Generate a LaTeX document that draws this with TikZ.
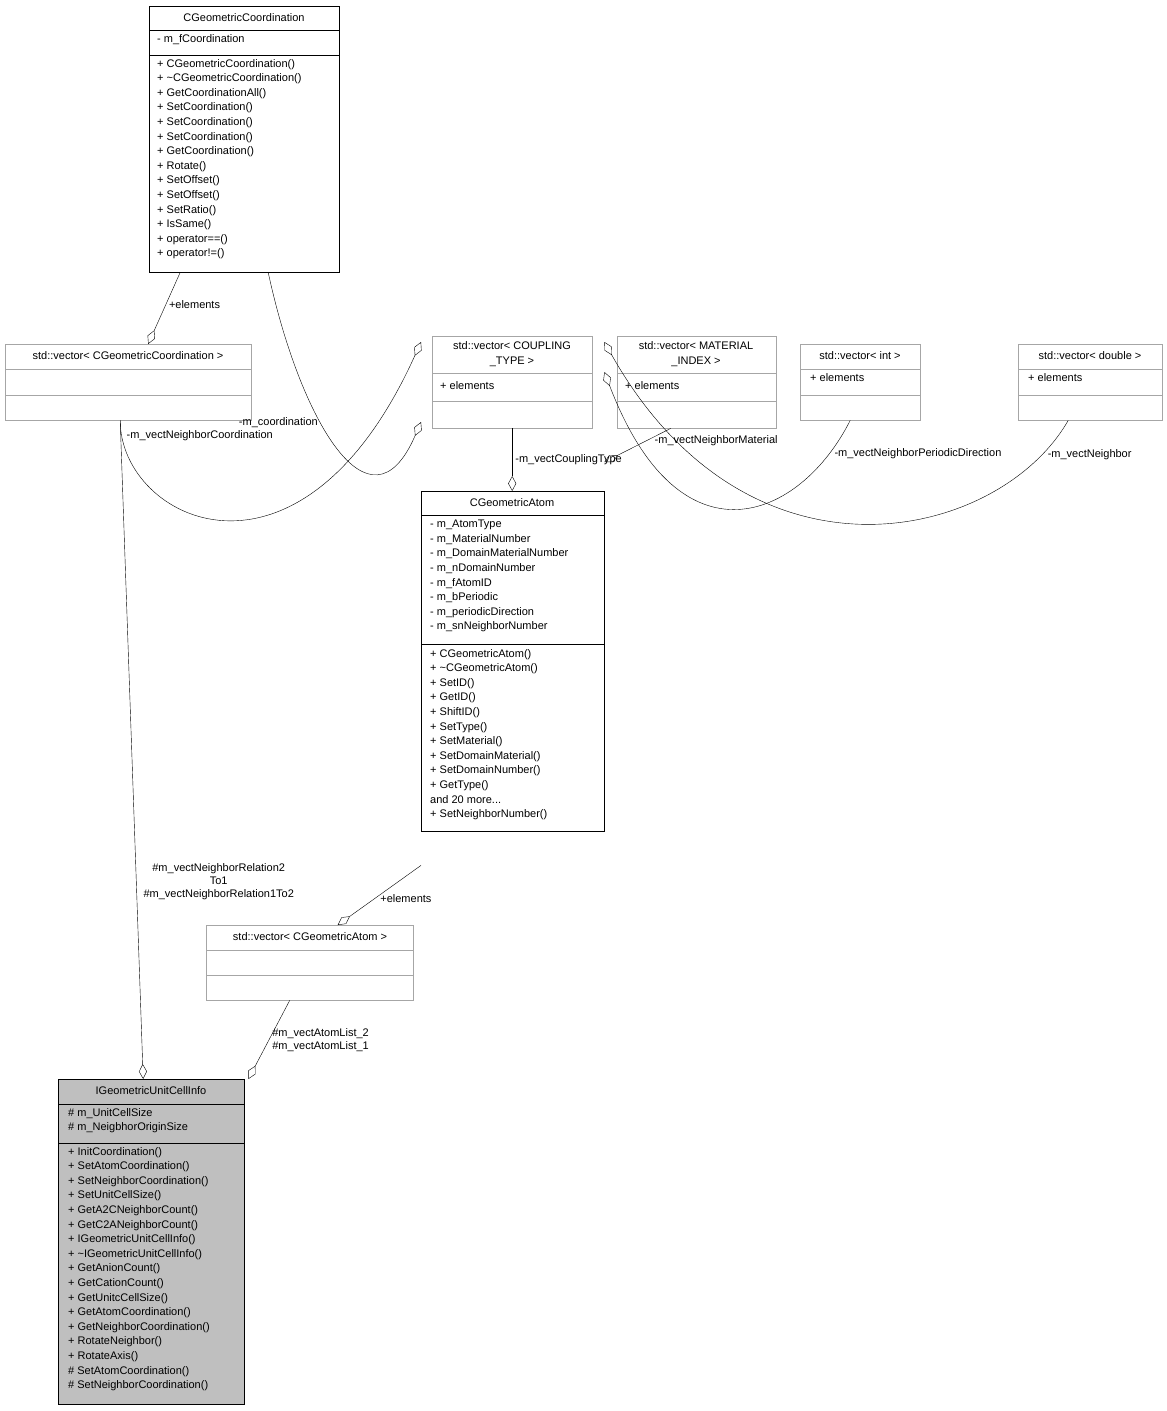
\documentclass[tikz,border=0pt]{standalone}
\usepackage{fontspec}
\setmainfont{Liberation Sans}
\usetikzlibrary{arrows.meta, calc}
\tikzset{
    cls/.style={rectangle, draw=black, fill=white, inner sep=0pt, anchor=north west},
    tmpl/.style={cls, draw=gray!70},
    focus/.style={cls, fill=gray!50},
    title/.style={inner sep=0pt, align=center, font=\fontsize{11}{14.6}\selectfont},
    members/.style={inner sep=0pt, anchor=north west, align=left, font=\fontsize{11}{14.6}\selectfont},
    agg/.style={-{Diamond[open, length=15pt, width=8pt]}, draw=black},
    lbl/.style={inner sep=1pt, align=center, font=\fontsize{11}{13}\selectfont}
}
% box: name, x1, y1, x2, y2, style
\newcommand{\umlbox}[6]{%
  \node[#6, minimum width=#4pt-#2pt, minimum height=#5pt-#3pt] (#1) at (#2,#3) {};}
\begin{document}
\begin{tikzpicture}[x=1pt, y=-1pt]
    \useasboundingbox (0,0) rectangle (1167,1411);

    % --- CGeometricCoordination ---
    \umlbox{coord}{149}{6}{339}{272}{cls}
    \draw (149,30) -- (339,30) (149,55) -- (339,55);
    \node[title] (coordT) at (244,18) {CGeometricCoordination};
    \node[members] (coordA) at (157,34) {- m\_fCoordination};
    \node[members] (coordM) at (157,59) {+ CGeometricCoordination()\\+ \char"7E CGeometricCoordination()\\+ GetCoordinationAll()\\+ SetCoordination()\\+ SetCoordination()\\+ SetCoordination()\\+ GetCoordination()\\+ Rotate()\\+ SetOffset()\\+ SetOffset()\\+ SetRatio()\\+ IsSame()\\+ operator==()\\+ operator!=()};

    % --- template vectors ---
    \umlbox{vcoord}{5}{344}{251}{420}{tmpl}
    \draw[gray!70] (5,369) -- (251,369) (5,395) -- (251,395);
    \node[title] at (128,356) {std::vector< CGeometricCoordination >};

    \umlbox{vcoup}{432}{336}{592}{428}{tmpl}
    \draw[gray!70] (432,373) -- (592,373) (432,401) -- (592,401);
    \node[title] at (512,354) {std::vector< COUPLING\\\_TYPE >};
    \node[members] at (440,381) {+ elements};

    \umlbox{vmat}{617}{336}{776}{428}{tmpl}
    \draw[gray!70] (617,373) -- (776,373) (617,401) -- (776,401);
    \node[title] at (696,354) {std::vector< MATERIAL\\\_INDEX >};
    \node[members] at (625,381) {+ elements};

    \umlbox{vint}{800}{344}{920}{420}{tmpl}
    \draw[gray!70] (800,369) -- (920,369) (800,395) -- (920,395);
    \node[title] at (860,356) {std::vector< int >};
    \node[members] at (810,373) {+ elements};

    \umlbox{vdbl}{1018}{344}{1162}{420}{tmpl}
    \draw[gray!70] (1018,369) -- (1162,369) (1018,395) -- (1162,395);
    \node[title] at (1090,356) {std::vector< double >};
    \node[members] at (1028,373) {+ elements};

    % --- CGeometricAtom ---
    \umlbox{atom}{421}{491}{604}{831}{cls}
    \draw (421,515) -- (604,515) (421,644) -- (604,644);
    \node[title] at (512,503) {CGeometricAtom};
    \node[members] at (430,520) {- m\_AtomType\\- m\_MaterialNumber\\- m\_DomainMaterialNumber\\- m\_nDomainNumber\\- m\_fAtomID\\- m\_bPeriodic\\- m\_periodicDirection\\- m\_snNeighborNumber};
    \node[members] at (430,649) {+ CGeometricAtom()\\+ \char"7E CGeometricAtom()\\+ SetID()\\+ GetID()\\+ ShiftID()\\+ SetType()\\+ SetMaterial()\\+ SetDomainMaterial()\\+ SetDomainNumber()\\+ GetType()\\and 20 more...\\+ SetNeighborNumber()};

    \umlbox{vatom}{206}{925}{413}{1000}{tmpl}
    \draw[gray!70] (206,950) -- (413,950) (206,975) -- (413,975);
    \node[title] at (310,937) {std::vector< CGeometricAtom >};

    % --- IGeometricUnitCellInfo ---
    \umlbox{cell}{58}{1079}{244}{1404}{focus}
    \draw (58,1104) -- (244,1104) (58,1143) -- (244,1143);
    \node[title] at (151,1091) {IGeometricUnitCellInfo};
    \node[members] at (68,1108) {\# m\_UnitCellSize\\\# m\_NeigbhorOriginSize};
    \node[members] at (68,1147) {+ InitCoordination()\\+ SetAtomCoordination()\\+ SetNeighborCoordination()\\+ SetUnitCellSize()\\+ GetA2CNeighborCount()\\+ GetC2ANeighborCount()\\+ IGeometricUnitCellInfo()\\+ \char"7E IGeometricUnitCellInfo()\\+ GetAnionCount()\\+ GetCationCount()\\+ GetUnitcCellSize()\\+ GetAtomCoordination()\\+ GetNeighborCoordination()\\+ RotateNeighbor()\\+ RotateAxis()\\\# SetAtomCoordination()\\\# SetNeighborCoordination()};

    % --- connectors ---
    \draw[agg] ([xshift=-64pt]coord.south) -- ([xshift=20pt]vcoord.north) node[lbl, pos=0.45, right=2pt] {+elements};
    \draw[agg] ([xshift=24pt]coord.south) .. controls (300,420) and (370,540) .. ([yshift=69pt]atom.north west) node[lbl, pos=0.4, left=2pt] {-m\_coordination};
    \draw[agg] ([xshift=-8pt]vcoord.south) .. controls (120,520) and (300,610) .. ([yshift=149pt]atom.north west) node[lbl, pos=0.05, right=4pt, anchor=west] {-m\_vectNeighborCoordination};
    \draw[agg] (vcoup.south) -- ([xshift=-0.5pt]atom.north) node[lbl, midway, right=2pt] {-m\_vectCouplingType};
    \draw[agg] ([xshift=-26pt]vmat.south) -- ([yshift=29pt]atom.north east) node[lbl, pos=0.35, right=6pt] {-m\_vectNeighborMaterial};
    \draw[agg] ([xshift=-10pt]vint.south) .. controls (800,520) and (680,570) .. ([yshift=119pt]atom.north east) node[lbl, pos=0.12, right=4pt] {-m\_vectNeighborPeriodicDirection};
    \draw[agg] ([xshift=-22pt]vdbl.south) .. controls (1000,540) and (750,600) .. ([yshift=149pt]atom.north east) node[lbl, pos=0.1, right=4pt] {-m\_vectNeighbor};
    \draw[agg] ([yshift=-34pt]atom.south west) -- ([xshift=28pt]vatom.north) node[lbl, pos=0.55, right=4pt] {+elements};
    \draw[agg] ([xshift=-8pt]vcoord.south) -- ([xshift=-8pt]cell.north) node[lbl, pos=0.7, right=6pt] {\#m\_vectNeighborRelation2\\To1\\\#m\_vectNeighborRelation1To2};
    \draw[agg] ([xshift=-20pt]vatom.south) -- ([xshift=4pt]cell.north east) node[lbl, midway, right=2pt, align=left] {\#m\_vectAtomList\_2\\\#m\_vectAtomList\_1};
\end{tikzpicture}
\end{document}
